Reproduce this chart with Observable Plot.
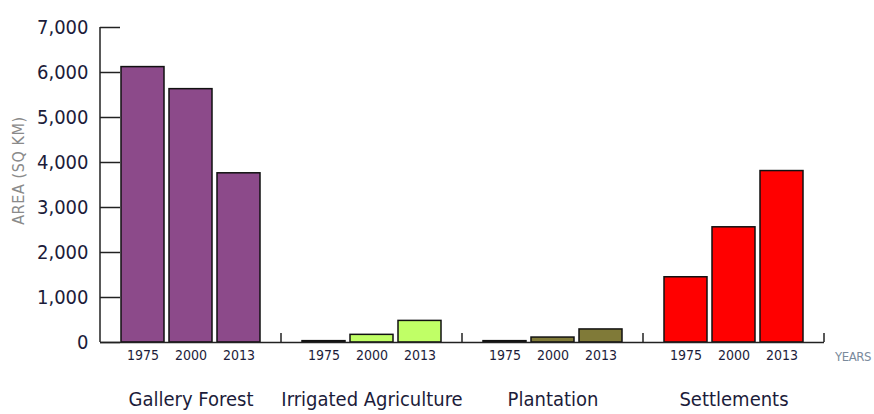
<!DOCTYPE html>
<html>
<head>
<meta charset="utf-8">
<script src="https://cdn.jsdelivr.net/npm/d3@7"></script>
<script src="https://cdn.jsdelivr.net/npm/@observablehq/plot@0.6"></script>
<style>
  html, body { margin: 0; padding: 0; background: #fff; }
  #chart { position: relative; width: 874px; height: 414px; }
  #chart svg text { font-stretch: condensed; }
</style>
</head>
<body>
<div id="chart"></div>
<script>
const categories = ["Gallery Forest", "Irrigated Agriculture", "Plantation", "Settlements"];
const years = ["1975", "2000", "2013"];
const galleryForest = [6120, 5630, 3760];
const irrigatedAgriculture = [30, 170, 480];
const plantation = [30, 110, 290];
const settlements = [1450, 2560, 3810];
const categoryColors = ["#8c4a8a", "#c0ff66", "#807a38", "#ff0000"];
const yTicks = [0, 1000, 2000, 3000, 4000, 5000, 6000, 7000];

const seriesValues = [galleryForest, irrigatedAgriculture, plantation, settlements];
const data = [];
categories.forEach((c, i) => years.forEach((y, j) => data.push({category: c, year: y, value: seriesValues[i][j]})));

const font = "'DejaVu Sans Condensed', 'DejaVu Sans', sans-serif";
const ink = "#1c1c3a";

const plot = Plot.plot({
  width: 874,
  height: 414,
  marginLeft: 99,
  marginRight: 50,
  marginTop: 27,
  marginBottom: 72,
  style: {fontFamily: font, background: "#fff", color: ink},
  fx: {domain: categories, padding: 0, label: null},
  x: {domain: years, paddingInner: 0.1, paddingOuter: 0.4, label: null},
  y: {domain: [0, 7000], label: null},
  color: {domain: categories, range: categoryColors},
  marks: [
    Plot.barY(data, {fx: "category", x: "year", y: "value", fill: "category", stroke: "#111", strokeWidth: 1.5}),
    Plot.ruleY([0], {stroke: "#222", strokeWidth: 1.5}),
    Plot.axisY({ticks: yTicks, anchor: "left", tickSize: -20, tickPadding: 32, tickFormat: d3.format(","), fontSize: 20, fill: ink, stroke: "#222", strokeWidth: 1.5, label: null}),
    Plot.axisX({anchor: "bottom", tickSize: 0, tickPadding: 8, fontSize: 14, fill: ink, label: null}),
    Plot.axisFx({anchor: "bottom", tickSize: 0, tickPadding: 49, fontSize: 20, fill: ink, label: null})
  ]
});

document.getElementById("chart").appendChild(plot);

// decorations: y-axis domain line, facet separator ticks, axis titles
const svg = d3.select(plot);
const fx = plot.scale("fx");
const yS = plot.scale("y");
const y0 = yS.apply(0);
const yTop = yS.apply(7000);
const left = fx.apply(categories[0]);
const g = svg.append("g").attr("stroke", "#222").attr("stroke-width", 1.5);
g.append("line").attr("x1", left).attr("x2", left).attr("y1", yTop).attr("y2", y0);
categories.forEach(c => {
  const xr = fx.apply(c) + fx.bandwidth;
  g.append("line").attr("x1", xr).attr("x2", xr).attr("y1", y0).attr("y2", y0 - 9);
});
svg.append("text")
  .attr("transform", `translate(24,${(yTop + y0) / 2 - 14}) rotate(-90)`)
  .attr("text-anchor", "middle")
  .attr("font-size", 16)
  .attr("letter-spacing", 0.6)
  .attr("fill", "#8a8a8a")
  .attr("font-family", font)
  .text("AREA (SQ KM)");
svg.append("text")
  .attr("x", fx.apply(categories[categories.length - 1]) + fx.bandwidth + 11)
  .attr("y", y0 + 19)
  .attr("text-anchor", "start")
  .attr("font-size", 13)
  .attr("letter-spacing", -0.4)
  .attr("fill", "#7a8a9c")
  .attr("font-family", font)
  .text("YEARS");
</script>
</body>
</html>
